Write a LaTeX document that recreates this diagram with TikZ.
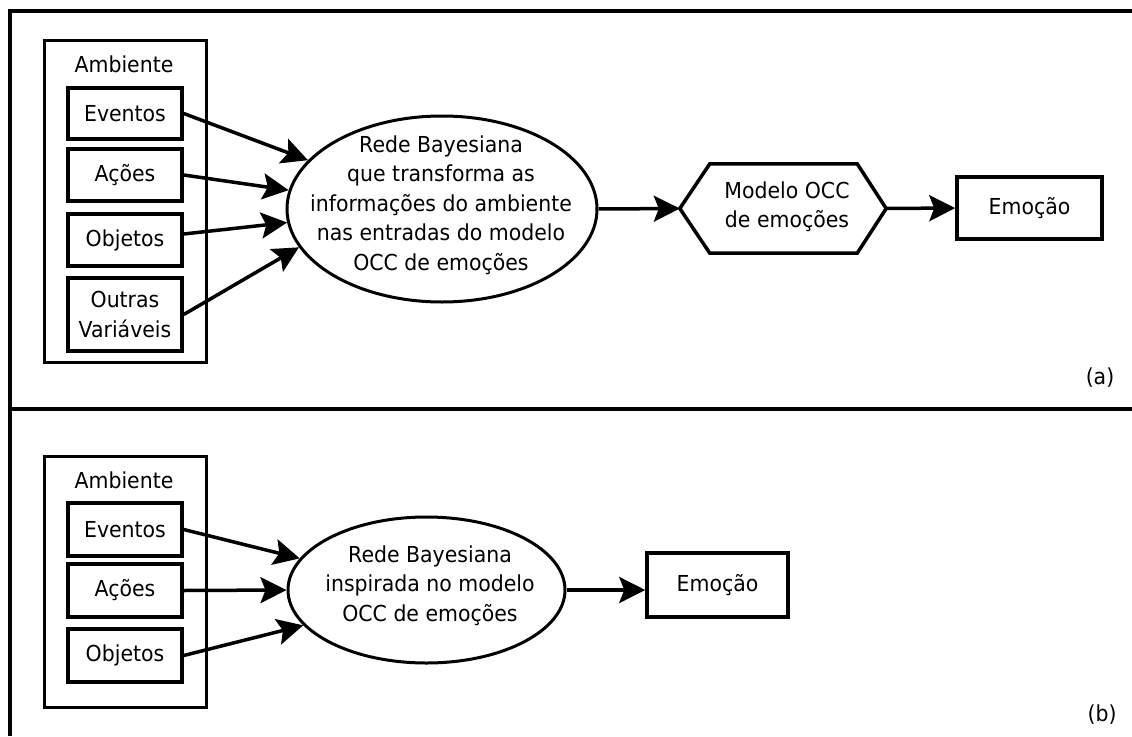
\documentclass[tikz,border=0pt]{standalone}
\usepackage{fontspec}
\setmainfont{DejaVu Sans}[FakeStretch=0.93]
\usetikzlibrary{arrows.meta,calc,shapes.geometric}
\begin{document}
\begin{tikzpicture}[x=1pt,y=-1pt,
  every node/.style={font=\fontsize{22}{29.5}\selectfont, inner sep=0pt, align=center},
  frameline/.style={line width=4pt},
  outerbox/.style={draw, line width=3pt, minimum width=162pt},
  itembox/.style={draw, line width=3.5pt, minimum width=114pt, minimum height=52pt},
  bayes/.style={draw, ellipse, line width=3pt},
  resultbox/.style={draw, line width=3.5pt},
  conn/.style={line width=3.5pt, -{Stealth[length=26pt,width=26pt,inset=5pt]}},
]
\useasboundingbox (0,0) rectangle (1132,736);

% frame
\draw[frameline] (1132,11) -- (10,11) -- (10,736);
\draw[frameline] (10,409) -- (1132,409);

% ---------- panel (a) ----------
\node[outerbox, minimum height=322pt] (ambA) at (125,201) {};
\node (ambAlbl) at (124,64) {Ambiente};
\node[itembox, minimum height=51pt] (evA) at (125,113.5) {Eventos};
\node[itembox] (acA) at (125,175) {Ações};
\node[itembox] (obA) at (125,240) {Objetos};
\node[itembox, minimum height=73pt] (ouA) at (125,314.5) {Outras\\Variáveis};

\node[bayes, minimum width=310pt, minimum height=186pt] (elA) at (442,209) {};
\node (elAtxt) at (441,205) {Rede Bayesiana\\que transforma as\\informações do ambiente\\nas entradas do modelo\\OCC de emoções};

\node[minimum width=206pt, minimum height=89pt] (hexA) at (783,208.5) {};
\draw[line width=3.5pt] (hexA.west) -- ($(hexA.north west)+(30,0)$) -- ($(hexA.north east)+(-29,0)$)
  -- (hexA.east) -- ($(hexA.south east)+(-29,0)$) -- ($(hexA.south west)+(30,0)$) -- cycle;
\node (hexAtxt) at (787,207) {Modelo OCC\\de emoções};

\node[resultbox, minimum width=145pt, minimum height=62pt] (emA) at (1029.5,208) {Emoção};
\node (labA) at (1100,378) {(a)};

\draw[conn] (evA.east) -- (elA.160);
\draw[conn] (acA.east) -- (elA.173);
\draw[conn] ([yshift=6pt]obA.east) -- (elA.185);
\draw[conn] (ouA.east) -- (elA.195);
\draw[conn] (elA.east) -- (hexA.west);
\draw[conn] (hexA.east) -- (emA.west);

% ---------- panel (b) ----------
\node[outerbox, minimum height=251pt] (ambB) at (125,581.5) {};
\node (ambBlbl) at (124,480) {Ambiente};
\node[itembox, minimum height=53pt] (evB) at (125,529.5) {Eventos};
\node[itembox, minimum height=53pt] (acB) at (125,590.5) {Ações};
\node[itembox, minimum height=53pt] (obB) at (125,655.5) {Objetos};

\node[bayes, minimum width=277pt, minimum height=146pt] (elB) at (426.5,590) {};
\node (elBtxt) at (430,585.5) {Rede Bayesiana\\inspirada no modelo\\OCC de emoções};

\node[resultbox, minimum width=141pt, minimum height=64pt] (emB) at (717.5,585) {Emoção};
\node (labB) at (1102,715) {(b)};

\draw[conn] (evB.east) -- (elB.166);
\draw[conn] (acB.east) -- (elB.180);
\draw[conn] (obB.east) -- (elB.196);
\draw[conn] (elB.east) -- (elB.east -| emB.west);
\end{tikzpicture}
\end{document}
